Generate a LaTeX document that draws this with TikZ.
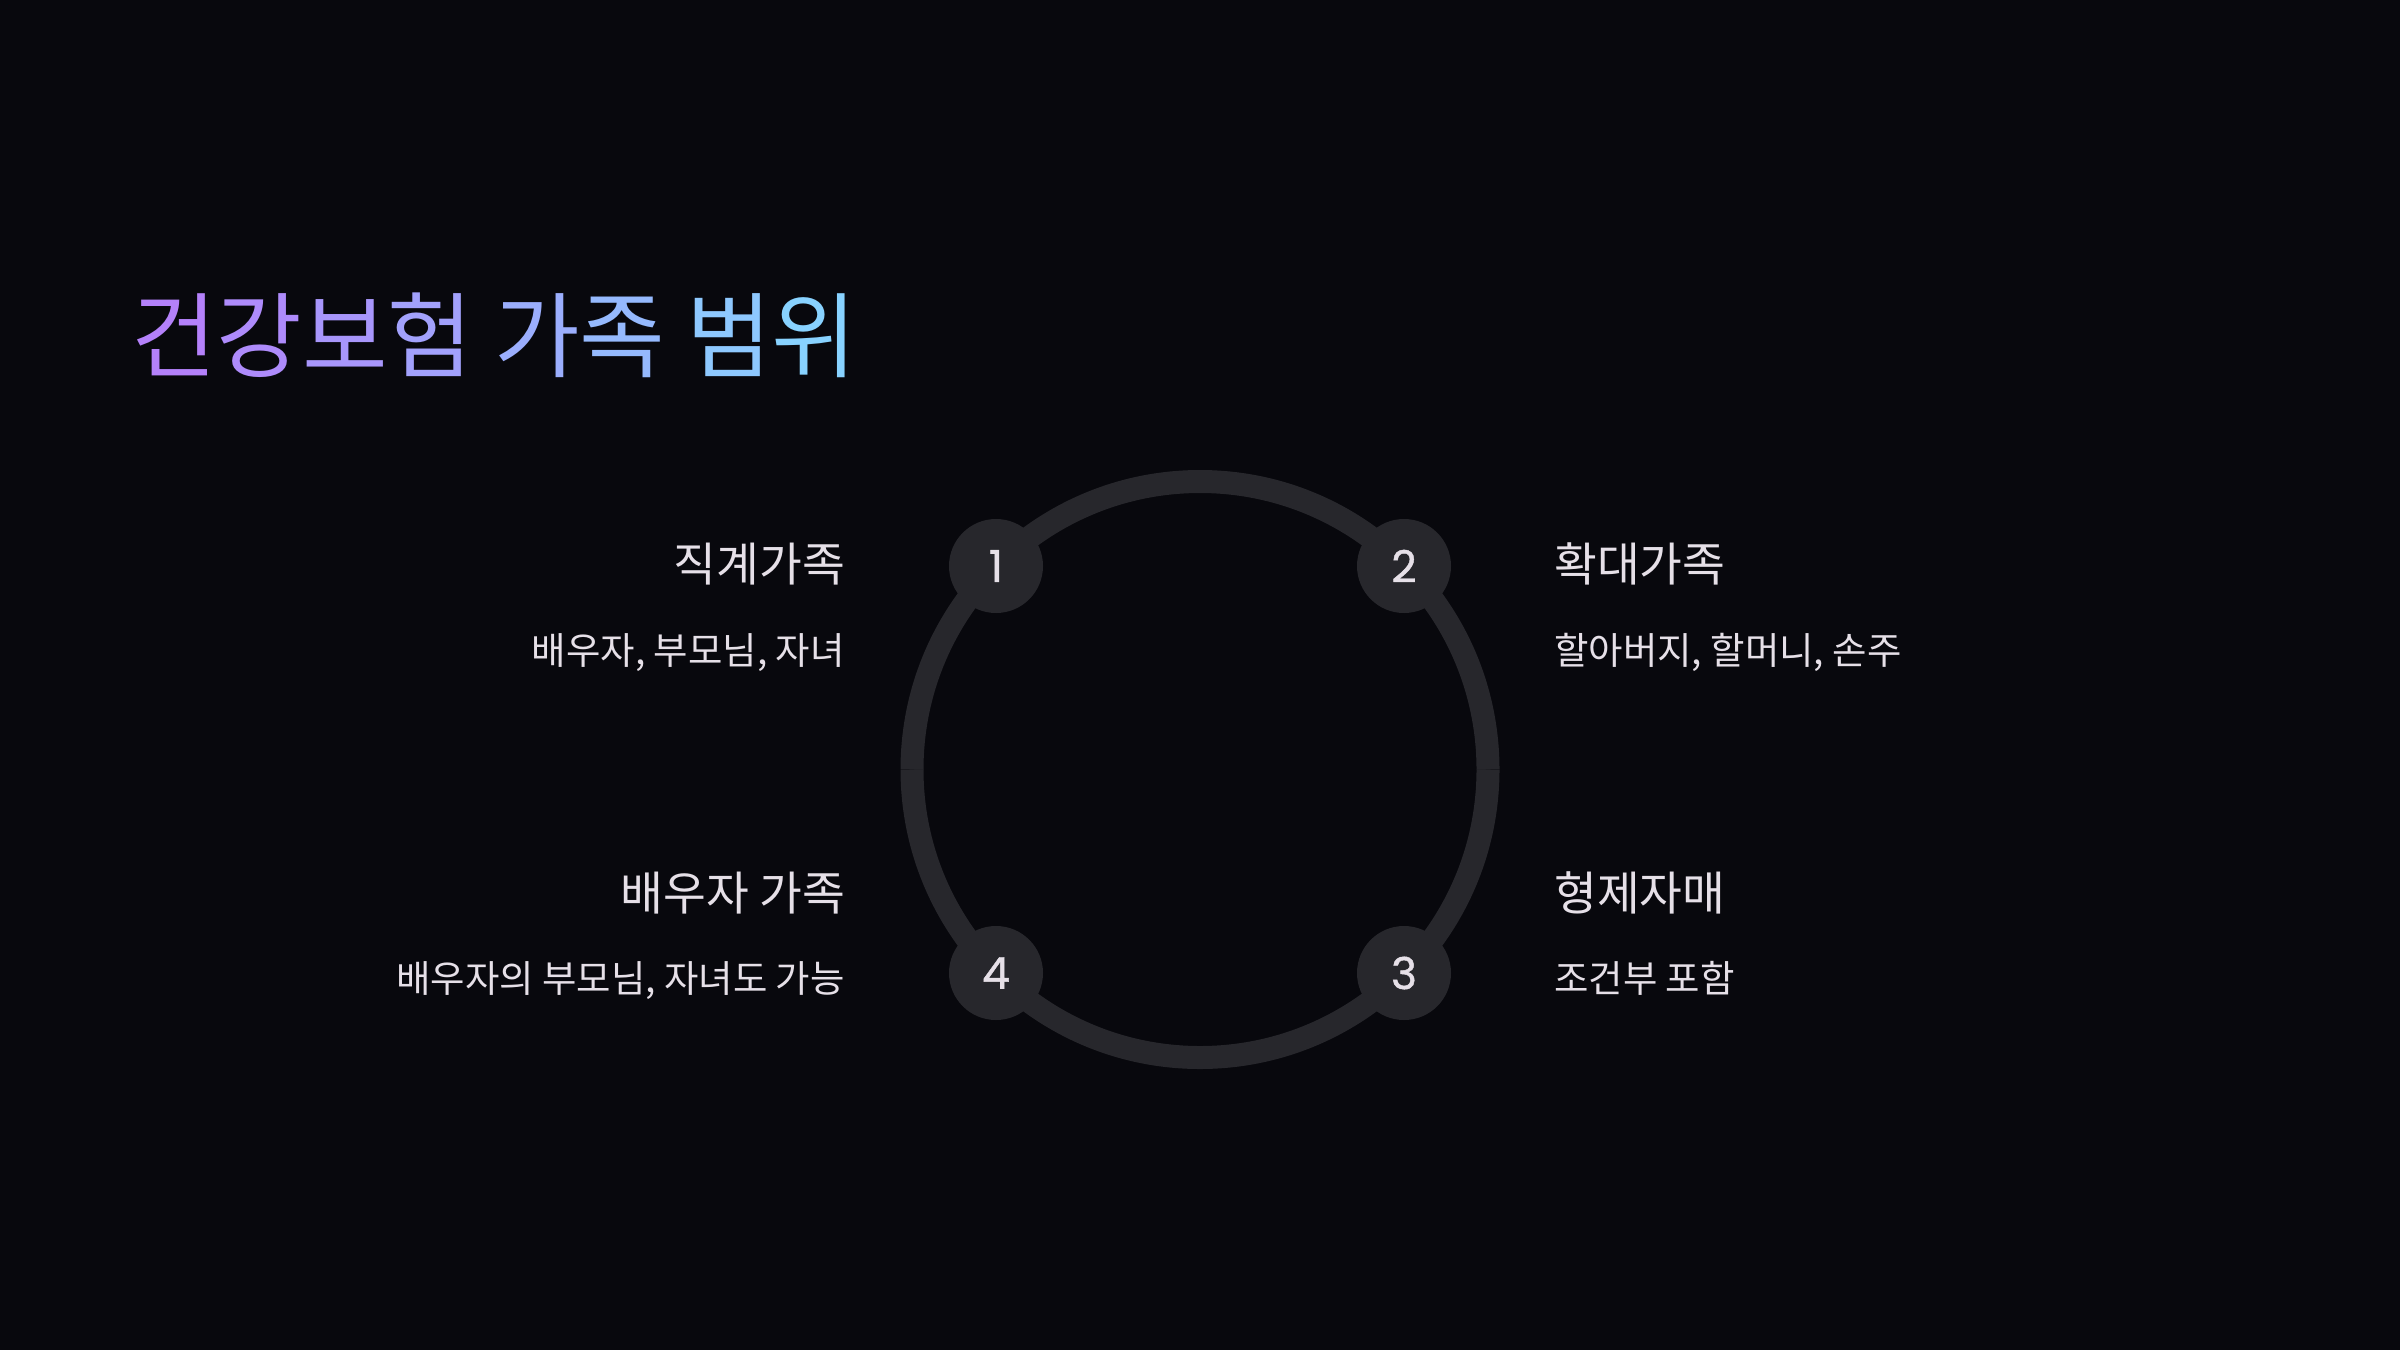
\documentclass[tikz,border=0pt]{standalone}
\usepackage{fontspec}
\setmainfont{Noto Sans CJK KR}
\newfontfamily\numfont[FakeBold=1]{Poppins}
\definecolor{bg}{RGB}{8,8,13}
\definecolor{ringc}{RGB}{39,39,44}
\definecolor{txt}{RGB}{230,224,232}
\definecolor{tA}{RGB}{182,124,250}
\definecolor{tB}{RGB}{134,214,255}
\colorlet{t1}{tA!95!tB}
\colorlet{t2}{tA!83!tB}
\colorlet{t3}{tA!71!tB}
\colorlet{t4}{tA!59!tB}
\colorlet{t5}{tA!44!tB}
\colorlet{t6}{tA!32!tB}
\colorlet{t7}{tA!16!tB}
\colorlet{t8}{tA!5!tB}
\tikzset{
  ringarc/.style={draw=ringc, line width=23pt},
  numnode/.style={circle, minimum size=94pt, inner sep=0pt, fill=ringc, text=txt,
    font=\numfont\fontsize{44}{44}\selectfont},
  headl/.style={inner sep=0pt, text=txt, font=\fontsize{46.5}{54}\selectfont},
  subl/.style={inner sep=0pt, text=txt, font=\fontsize{37.4}{44}\selectfont},
}
\begin{document}
\begin{tikzpicture}[x=1pt, y=-1pt]
\fill[bg] (0,0) rectangle (2400,1350);
\useasboundingbox (0,0) rectangle (2400,1350);
% title
\node[anchor=base west, inner sep=0pt, font=\fontsize{93}{100}\selectfont] (title) at (131,370)
  {{\color{t1}건}{\color{t2}강}{\color{t3}보}{\color{t4}험} {\color{t5}가}{\color{t6}족} {\color{t7}범}{\color{t8}위}};
% ring
\coordinate (o) at (1200,769.5);
\draw[ringarc] ([shift={(0:288)}]o) arc[start angle=0, end angle=90, radius=288];
\draw[ringarc] ([shift={(90:288)}]o) arc[start angle=90, end angle=180, radius=288];
\draw[ringarc] ([shift={(180:288)}]o) arc[start angle=180, end angle=270, radius=288];
\draw[ringarc] ([shift={(270:288)}]o) arc[start angle=270, end angle=360, radius=288];
% numbered nodes
\node[numnode] (n1) at (996,566) {1};
\node[numnode] (n2) at (1404,566) {2};
\node[numnode] (n3) at (1404,973) {3};
\node[numnode] (n4) at (996,973) {4};
% labels
\node[headl, anchor=base east] (h1) at (845,581.5) {직계가족};
\node[subl, anchor=base east] (s1) at (845,664) {배우자, 부모님, 자녀};
\node[headl, anchor=base west] (h2) at (1554,581.5) {확대가족};
\node[subl, anchor=base west] (s2) at (1554,664) {할아버지, 할머니, 손주};
\node[headl, anchor=base west] (h3) at (1554,910) {형제자매};
\node[subl, anchor=base west] (s3) at (1554,992) {조건부 포함};
\node[headl, anchor=base east] (h4) at (845,910) {배우자 가족};
\node[subl, anchor=base east] (s4) at (845,992) {배우자의 부모님, 자녀도 가능};
\end{tikzpicture}
\end{document}
